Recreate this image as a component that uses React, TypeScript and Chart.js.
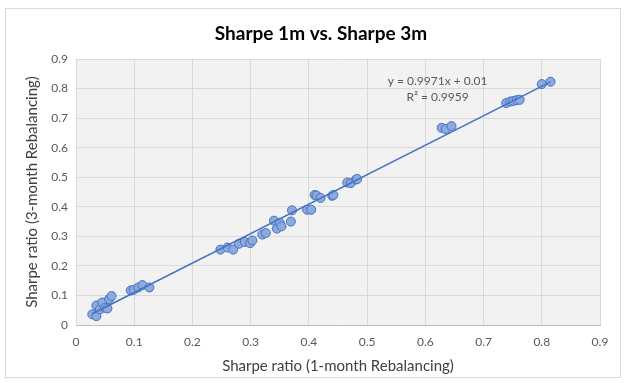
import { useEffect, useRef } from 'react';
import { Chart, registerables } from 'chart.js';

Chart.register(...registerables);

const sharpe1m = [
  0.028, 0.035, 0.035, 0.041, 0.045, 0.05, 0.054, 0.057, 0.061, 0.094, 0.099, 0.107, 0.114, 0.126,
  0.248, 0.26, 0.27, 0.28, 0.29, 0.299, 0.303, 0.32, 0.326, 0.34, 0.345, 0.35, 0.353, 0.369, 0.371,
  0.397, 0.404, 0.41, 0.413, 0.42, 0.44, 0.442,
  0.466, 0.472, 0.481, 0.483, 0.628, 0.635, 0.645, 0.739, 0.746, 0.751, 0.757, 0.762, 0.8, 0.815,
];
const sharpe3m = [
  0.036, 0.03, 0.066, 0.053, 0.076, 0.058, 0.056, 0.088, 0.098, 0.117, 0.119, 0.127, 0.135, 0.127,
  0.255, 0.262, 0.255, 0.275, 0.281, 0.277, 0.286, 0.306, 0.311, 0.353, 0.326, 0.346, 0.334, 0.35, 0.388,
  0.39, 0.39, 0.44, 0.438, 0.43, 0.437, 0.44,
  0.482, 0.48, 0.492, 0.494, 0.667, 0.663, 0.673, 0.751, 0.756, 0.758, 0.761, 0.762, 0.815, 0.823,
];
const trendSlope = 0.9971;
const trendIntercept = 0.01;
const equationText = 'y = 0.9971x + 0.01';
const r2Text = 'R² = 0.9959';
const chartTitle = 'Sharpe 1m vs. Sharpe 3m';
const xTitle = 'Sharpe ratio (1-month Rebalancing)';
const yTitle = 'Sharpe ratio (3-month Rebalancing)';

const FONT = 'Lato, "Open Sans", sans-serif';

export default function App() {
  const ref = useRef<HTMLCanvasElement | null>(null);
  useEffect(() => {
    if (!ref.current) return;
    const points = sharpe1m.map((x, i) => ({ x, y: sharpe3m[i] }));
    const xMin = Math.min(...sharpe1m);
    const xMax = Math.max(...sharpe1m);
    const trend = [
      { x: xMin, y: trendSlope * xMin + trendIntercept },
      { x: xMax, y: trendSlope * xMax + trendIntercept },
    ];
    const bgPlugin = {
      id: 'bgPlugin',
      beforeDraw(chart: any) {
        const { ctx, chartArea, width, height } = chart;
        ctx.save();
        ctx.fillStyle = '#ffffff';
        ctx.fillRect(0, 0, width, height);
        ctx.fillStyle = '#f2f2f2';
        ctx.fillRect(chartArea.left, chartArea.top, chartArea.right - chartArea.left, chartArea.bottom - chartArea.top);
        ctx.strokeStyle = '#d9d9d9';
        ctx.lineWidth = 1;
        ctx.strokeRect(5.5, 8.5, 615, 369);
        ctx.fillStyle = '#000000';
        ctx.font = `bold 19px ${FONT}`;
        ctx.textAlign = 'center';
        ctx.textBaseline = 'middle';
        ctx.fillText(chartTitle, 321, 34);
        ctx.restore();
      },
      afterDatasetsDraw(chart: any) {
        const { ctx, scales } = chart;
        const cx = scales.x.getPixelForValue(0.621);
        const y1 = scales.y.getPixelForValue(0.826);
        const y2 = scales.y.getPixelForValue(0.77);
        ctx.save();
        ctx.fillStyle = '#595959';
        ctx.font = `12px ${FONT}`;
        ctx.textAlign = 'center';
        ctx.textBaseline = 'middle';
        ctx.fillText(equationText, cx, y1);
        ctx.fillText(r2Text, cx, y2);
        ctx.restore();
      },
    };
    const chart = new Chart(ref.current, {
      type: 'scatter',
      data: {
        datasets: [
          {
            label: 'data',
            data: points,
            backgroundColor: '#8eaadc',
            borderColor: '#4472c4',
            borderWidth: 1,
            pointRadius: 4.5,
            order: 2,
          },
          {
            label: 'trend',
            type: 'line',
            data: trend,
            borderColor: '#4472c4',
            borderWidth: 1.5,
            pointRadius: 0,
            showLine: true,
            fill: false,
            order: 1,
          } as any,
        ],
      },
      options: {
        responsive: false,
        animation: false,
        layout: { padding: { left: 0, right: 26, top: 59, bottom: 0 } },
        plugins: {
          legend: { display: false },
          tooltip: { enabled: false },
          title: { display: false },
        },
        scales: {
          x: {
            type: 'linear',
            min: 0,
            max: 0.9,
            ticks: {
              stepSize: 0.1,
              color: '#595959',
              font: { family: FONT, size: 12 },
              padding: 10,
              callback: (v: any) => String(Math.round(Number(v) * 10) / 10),
            },
            grid: { color: '#d9d9d9', drawTicks: false },
            border: { color: '#bfbfbf' },
            title: {
              display: true,
              text: xTitle,
              color: '#404040',
              font: { family: FONT, size: 15, lineHeight: 1.2 },
              padding: { top: 0, bottom: 8 },
            },
            afterFit: (s: any) => { s.height = 58; },
          },
          y: {
            type: 'linear',
            min: 0,
            max: 0.9,
            ticks: {
              stepSize: 0.1,
              color: '#595959',
              font: { family: FONT, size: 12 },
              padding: 8,
              callback: (v: any) => String(Math.round(Number(v) * 10) / 10),
            },
            grid: { color: '#d9d9d9', drawTicks: false },
            border: { color: '#d9d9d9' },
            title: {
              display: true,
              text: yTitle,
              color: '#404040',
              font: { family: FONT, size: 15, lineHeight: 1.2 },
              padding: { top: 23, bottom: 0 },
            },
            afterFit: (s: any) => { s.width = 76; },
          },
        },
      },
      plugins: [bgPlugin],
    });
    return () => chart.destroy();
  }, []);
  return (
    <div style={{ position: 'fixed', left: 0, top: 0, width: 626, height: 383, background: '#fff' }}>
      <canvas ref={ref} width={626} height={383} />
    </div>
  );
}
